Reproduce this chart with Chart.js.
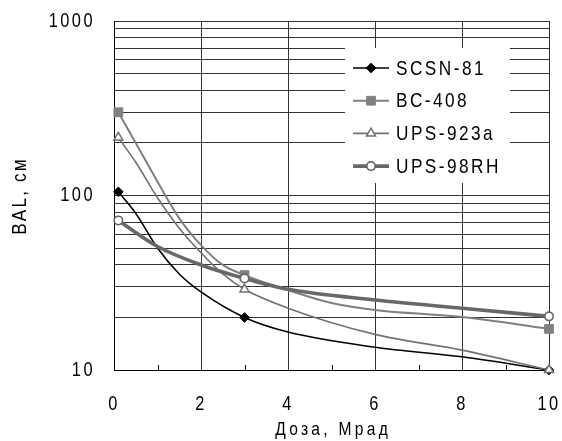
<!DOCTYPE html>
<html><head><meta charset="utf-8">
<script src="https://cdn.jsdelivr.net/npm/chart.js@4.4.1/dist/chart.umd.min.js"></script>
<style>html,body{margin:0;padding:0;background:#fff}#wrap{width:562px;height:441px}</style>
</head><body><div id="wrap"><canvas id="c" width="562" height="441"></canvas></div>
<script>
// ---- data ----
const seriesNames = ['SCSN-81', 'BC-408', 'UPS-923a', 'UPS-98RH'];
const scsnDose = [0.1, 0.5, 1, 1.5, 2, 3, 4, 6, 8, 10];
const scsnBAL  = [105, 79, 50, 35.5, 28, 20, 16.5, 13.5, 11.9, 10];
const bcDose   = [0.1, 0.5, 1, 1.5, 2, 2.5, 3, 4, 5, 6, 8, 10];
const bcBAL    = [300, 200, 120, 74, 52, 40, 35, 28.7, 24.2, 22.1, 20.1, 17.2];
const upsaDose = [0.1, 0.5, 1, 1.5, 2, 2.5, 3, 4, 6, 8, 10];
const upsaBAL  = [215, 155, 97, 65, 47, 35.5, 29, 22.6, 16, 13, 10];
const rhDose   = [0.1, 1, 2, 3, 4, 6, 8, 10];
const rhBAL    = [72, 51, 40, 33.5, 29, 25.2, 22.6, 20.3];
const markerDoses = [0.1, 3, 10];
const xTickValues = [0, 2, 4, 6, 8, 10];
const xMinorTicks = [1, 3, 5, 7, 9];
const yGridValues = [10,20,30,40,50,60,70,80,90,100,200,300,400,500,600,700,800,900,1000];
const yLabelValues = [10, 100, 1000];
const xTitle = 'Доза, Мрад';
const yTitle = 'BAL, см';

const FONT = '"Liberation Sans", Arial, sans-serif';
const NARROW = 0.82;   // emulate the narrow face of the original
const pts = (xs, ys) => xs.map((x, i) => ({x: x, y: ys[i]}));
const mk = r => (c => (c.raw && markerDoses.includes(c.raw.x)) ? r : 0);

const styles = [
  {color:'#000000', width:1.6, point:'rectRot', r:4.8, fill:'#000000', pcol:'#000000', pw:1},
  {color:'#808080', width:2,   point:'rect',    r:6.2, fill:'#808080', pcol:'#808080', pw:1},
  {color:'#727272', width:1.6, point:'triangle',r:5.2, fill:'#ffffff', pcol:'#727272', pw:1.5},
  {color:'#686868', width:3.6, point:'circle',  r:4.2, fill:'#ffffff', pcol:'#666666', pw:1.6}
];
const dataSets = [pts(scsnDose, scsnBAL), pts(bcDose, bcBAL), pts(upsaDose, upsaBAL), pts(rhDose, rhBAL)];

const datasets = dataSets.map((d, i) => ({
  label: seriesNames[i], data: d,
  borderColor: styles[i].color, borderWidth: styles[i].width,
  pointStyle: styles[i].point, pointRadius: mk(styles[i].r), pointHoverRadius: mk(styles[i].r),
  pointBackgroundColor: styles[i].fill, pointBorderColor: styles[i].pcol, pointBorderWidth: styles[i].pw,
  legendRadius: styles[i].r,
  cubicInterpolationMode: 'monotone', fill: false, clip: false, order: 3 - i
}));

// horizontally condensed text drawing (anchor-preserving)
const canvas = document.getElementById('c');
const ctx0 = canvas.getContext('2d');
const origFill = ctx0.fillText;
ctx0.fillText = function(t, x, y, m){
  this.save(); this.translate(x, y); this.scale(NARROW, 1);
  if (m === undefined) origFill.call(this, t, 0, 0); else origFill.call(this, t, 0, 0, m / NARROW);
  this.restore();
};

const SP = '3px';
const spacing = {
  id: 'spacing',
  beforeUpdate(c){ c.ctx.letterSpacing = SP; },
  beforeLayout(c){ c.ctx.letterSpacing = SP; },
  beforeDraw(c){ c.ctx.letterSpacing = SP; }
};

const minorTicks = {
  id: 'minorTicks',
  afterDatasetsDraw(c){
    const ctx = c.ctx, xs = c.scales.x, b = c.chartArea.bottom;
    ctx.save(); ctx.strokeStyle = '#000'; ctx.lineWidth = 1;
    xMinorTicks.forEach(v => {
      const px = Math.round(xs.getPixelForValue(v)) + 0.5;
      ctx.beginPath(); ctx.moveTo(px, b); ctx.lineTo(px, b - 5); ctx.stroke();
    });
    ctx.restore();
  }
};

const titlesAndLegend = {
  id: 'titlesAndLegend',
  afterDraw(c){
    const ctx = c.ctx, a = c.chartArea;
    ctx.save();
    ctx.fillStyle = '#000'; ctx.textBaseline = 'middle'; ctx.textAlign = 'center';
    // axis titles
    ctx.font = '19px ' + FONT; ctx.letterSpacing = '4px';
    ctx.fillText(xTitle, (a.left + a.right) / 2 + 1.6, 430);
    ctx.save();
    ctx.translate(20, 197); ctx.rotate(-Math.PI / 2);
    ctx.font = '21px ' + FONT; ctx.letterSpacing = '2.6px';
    ctx.fillText(yTitle, 1, 0);
    ctx.restore();
    // legend
    const bx = a.left + 231, by = a.top + 27, bw = 165, bh = 135;
    ctx.fillStyle = '#fff'; ctx.fillRect(bx, by, bw, bh);
    ctx.font = '21px ' + FONT; ctx.letterSpacing = '3px';
    ctx.textAlign = 'left';
    c.data.datasets.forEach((ds, i) => {
      const y = by + 20 + i * 32.7, x0 = bx + 8, x1 = bx + 44;
      ctx.strokeStyle = ds.borderColor; ctx.lineWidth = ds.borderWidth;
      ctx.beginPath(); ctx.moveTo(x0, y); ctx.lineTo(x1, y); ctx.stroke();
      ctx.fillStyle = ds.pointBackgroundColor; ctx.strokeStyle = ds.pointBorderColor; ctx.lineWidth = ds.pointBorderWidth;
      Chart.helpers.drawPoint(ctx, {pointStyle: ds.pointStyle, radius: ds.legendRadius, rotation: 0, borderWidth: ds.pointBorderWidth}, (x0 + x1) / 2, y);
      ctx.fillStyle = '#000';
      ctx.fillText(ds.label, bx + 51, y + 1);
    });
    ctx.restore();
  }
};

new Chart(canvas, {
  type: 'line',
  data: { datasets: datasets },
  plugins: [spacing, minorTicks, titlesAndLegend],
  options: {
    responsive: false, animation: false, devicePixelRatio: 1,
    layout: { padding: { left: 10, right: 13, top: 21, bottom: 6 } },
    plugins: { legend: { display: false }, tooltip: { enabled: false } },
    scales: {
      x: {
        type: 'linear', min: 0, max: 10,
        afterBuildTicks: s => { s.ticks = xTickValues.map(v => ({value: v})); },
        afterFit: s => { s.height = 441 - 370 - 6; s.paddingLeft = 0; s.paddingRight = 0; },
        grid: { color: '#333', lineWidth: 1, drawTicks: false },
        border: { color: '#000', width: 1 },
        ticks: { padding: 22, color: '#000', font: { family: FONT, size: 20 }, maxRotation: 0, autoSkip: false },
        title: { display: false, text: xTitle }
      },
      y: {
        type: 'logarithmic', min: 10, max: 1000,
        afterBuildTicks: s => { s.ticks = yGridValues.map(v => ({value: v})); },
        afterFit: s => { s.width = 114 - 10; s.paddingTop = 0; s.paddingBottom = 0; },
        grid: { color: '#333', lineWidth: 1, drawTicks: false },
        border: { color: '#000', width: 1 },
        ticks: { padding: 19, color: '#000', font: { family: FONT, size: 20 }, autoSkip: false,
                 callback: v => yLabelValues.includes(v) ? String(v) : '' },
        title: { display: false, text: yTitle }
      }
    }
  }
});
</script></body></html>
